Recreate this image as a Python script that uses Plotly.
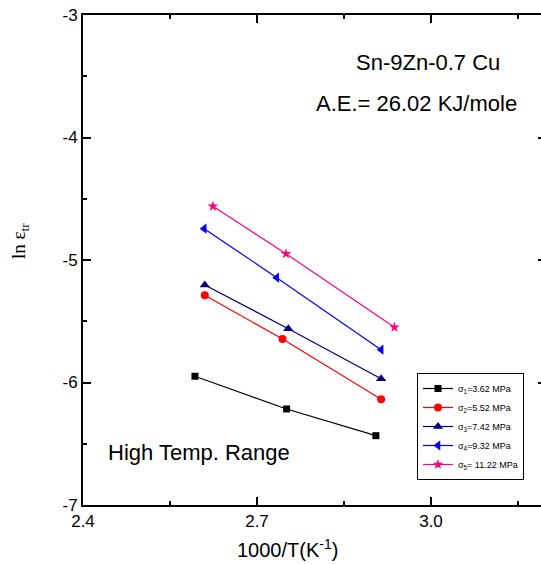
import plotly.graph_objects as go

# Data
names = ["σ<sub>1</sub>=3.62 MPa", "σ<sub>2</sub>=5.52 MPa", "σ<sub>3</sub>=7.42 MPa",
         "σ<sub>4</sub>=9.32 MPa", "σ<sub>5</sub>= 11.22 MPa"]
x_s1 = [2.593, 2.751, 2.905]
y_s1 = [-5.949, -6.216, -6.434]
x_s2 = [2.610, 2.744, 2.914]
y_s2 = [-5.288, -5.645, -6.137]
x_s3 = [2.610, 2.754, 2.914]
y_s3 = [-5.204, -5.561, -5.969]
x_s4 = [2.609, 2.734, 2.914]
y_s4 = [-4.744, -5.144, -5.732]
x_s5 = [2.624, 2.750, 2.937]
y_s5 = [-4.562, -4.949, -5.549]

y_tickvals = [-7, -6, -5, -4, -3]
y_ticktext = ["-7", "-6", "-5", "-4", "-3"]
x_tickvals = [2.4, 2.7, 3.0]
x_ticktext = ["2.4", "2.7", "3.0"]

colors = ["#000000", "#FF0000", "#000080", "#0000FF", "#FF0080"]
symbols = ["square", "circle", "triangle-up", "triangle-left", "star"]
sizes = [7, 8, 9, 9, 8]
xs = [x_s1, x_s2, x_s3, x_s4, x_s5]
ys = [y_s1, y_s2, y_s3, y_s4, y_s5]

FONT = "Arial, Liberation Sans, sans-serif"

fig = go.Figure()
for n, x, y, c, s, sz in zip(names, xs, ys, colors, symbols, sizes):
    fig.add_trace(go.Scatter(x=x, y=y, name=n, mode="lines+markers",
                             line=dict(color=c, width=1.2),
                             marker=dict(color=c, symbol=s, size=sz)))

# invisible trace for right-side mirrored ticks
fig.add_trace(go.Scatter(x=[2.5], y=[-5], yaxis="y2", showlegend=False,
                         mode="markers", marker=dict(opacity=0), hoverinfo="skip"))

L, R, T, B = 83, 0, 15, 59
W, H = 541, 564
pw = W - L - R
ph = H - T - B
x0, x1 = 2.4, 2.4 + pw / 580.0

def px(x):
    return (x - L) / pw

def py(y):
    return (H - B - y) / ph

fig.update_layout(
    width=W, height=H,
    margin=dict(l=L, r=R, t=T, b=B),
    plot_bgcolor="white", paper_bgcolor="white",
    font=dict(family=FONT, color="black"),
    showlegend=True,
    legend=dict(x=px(417), y=py(373), xanchor="left", yanchor="top",
                bordercolor="black", borderwidth=1, bgcolor="white",
                font=dict(size=9, family=FONT), itemwidth=30, tracegroupgap=0),
    xaxis=dict(range=[x0, x1], showgrid=False, zeroline=False,
               showline=True, linecolor="black", linewidth=2, mirror="ticks",
               ticks="inside", ticklen=8, tickwidth=1.5, tickcolor="black",
               tickvals=x_tickvals, ticktext=x_ticktext,
               tickfont=dict(size=17, family=FONT),
               minor=dict(dtick=0.15, tick0=2.4, ticks="inside", ticklen=4,
                          tickwidth=1.5, tickcolor="black")),
    yaxis=dict(range=[-7, -3], showgrid=False, zeroline=False,
               showline=True, linecolor="black", linewidth=2, mirror=False,
               ticks="inside", ticklen=8, tickwidth=1.5, tickcolor="black",
               tickvals=y_tickvals, ticktext=y_ticktext,
               tickfont=dict(size=17, family=FONT),
               minor=dict(dtick=0.5, tick0=-7, ticks="inside", ticklen=4,
                          tickwidth=1.5, tickcolor="black")),
    yaxis2=dict(range=[-7, -3], overlaying="y", side="right", anchor="x",
                showgrid=False, zeroline=False, showline=False,
                ticks="inside", ticklen=3, tickwidth=1.5, tickcolor="black",
                tickvals=y_tickvals, showticklabels=False),
)

ann = [
    dict(text="Sn-9Zn-0.7 Cu", x=px(502), y=py(63), size=22, anchor="right"),
    dict(text="A.E.= 26.02 KJ/mole", x=px(519), y=py(104), size=22, anchor="right"),
    dict(text="High Temp. Range", x=px(199), y=py(452), size=22, anchor="center"),
    dict(text="1000/T(K<sup>-1</sup>)", x=px(287), y=py(548), size=20, anchor="center"),
]
for a in ann:
    fig.add_annotation(text=a["text"], x=a["x"], y=a["y"], xref="paper", yref="paper",
                       showarrow=False, xanchor=a["anchor"], yanchor="middle",
                       font=dict(size=a["size"], family=FONT, color="black"))
fig.add_annotation(text="ln ε<sub>tr</sub>", x=px(20), y=py(241), xref="paper", yref="paper",
                   showarrow=False, xanchor="center", yanchor="middle", textangle=-90,
                   font=dict(size=19, family="Liberation Serif, Times New Roman, serif",
                             color="black"))

fig.write_html("out.html")
